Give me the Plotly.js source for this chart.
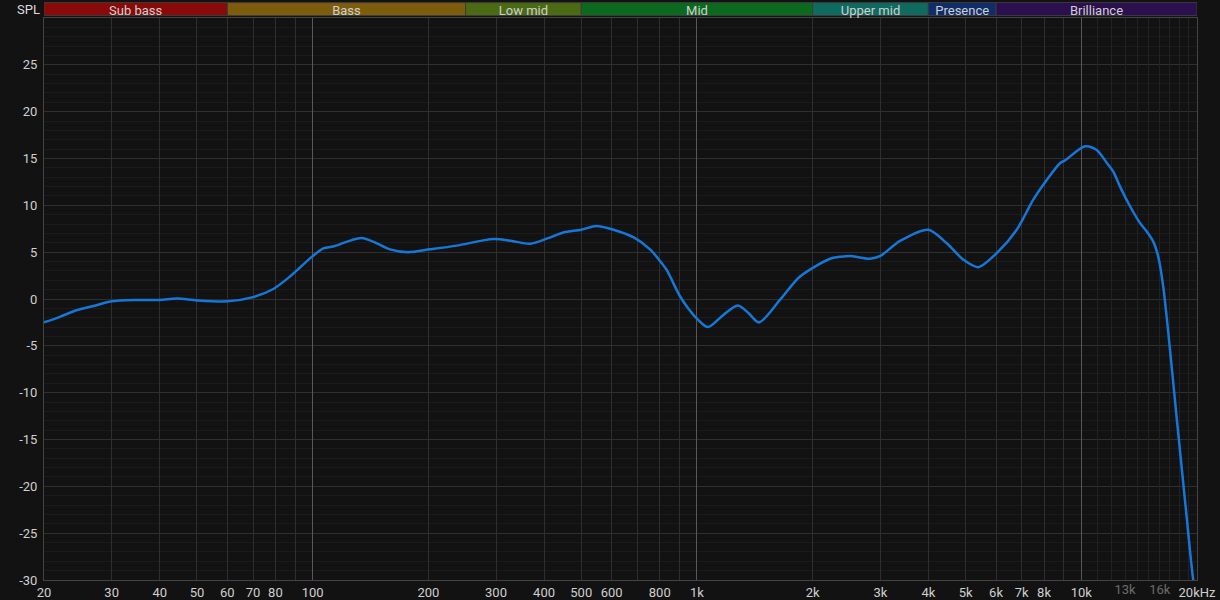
<!DOCTYPE html>
<html>
<head>
<meta charset="utf-8">
<script src="https://cdn.plot.ly/plotly-3.0.1.min.js"></script>
<style>
  html, body { margin: 0; padding: 0; background: #121212; }
  #chart { width: 1220px; height: 600px; }
</style>
</head>
<body>
<div id="chart"></div>
<script>
// ---- data ----
const freq = [20, 22, 24.3, 26.9, 30, 34.2, 40, 44.3, 50, 60, 70, 79, 87.3, 99.5, 106.6, 113, 122.6, 134, 146, 159, 177, 202, 237, 295, 330, 368, 410, 449, 500, 548, 606, 683, 755, 800, 834, 900, 945, 1000, 1068, 1171, 1278, 1361, 1450, 1644, 1854, 2220, 2356, 2500, 2820, 3000, 3376, 4000, 4466, 4932, 5396, 6024, 6792, 7500, 8128, 8800, 9072, 10228, 10965, 11668, 12112, 12612, 13391, 14220, 14800, 15400, 15860, 16340, 16850, 17700, 18800, 19420, 20000];
const spl = [-2.5, -1.9, -1.2, -0.75, -0.25, -0.1, -0.1, 0.05, -0.15, -0.25, 0.2, 1.07, 2.4, 4.5, 5.4, 5.6, 6.1, 6.5, 6.0, 5.3, 5.0, 5.3, 5.7, 6.4, 6.2, 5.9, 6.5, 7.1, 7.4, 7.8, 7.4, 6.6, 5.3, 4.1, 3.1, 0.4, -0.9, -2.1, -3.0, -1.7, -0.7, -1.5, -2.5, -0.1, 2.4, 4.3, 4.5, 4.6, 4.3, 4.6, 6.2, 7.4, 5.95, 4.2, 3.4, 4.9, 7.4, 10.6, 12.7, 14.5, 14.8, 16.3, 15.9, 14.5, 13.6, 12.0, 9.9, 8.1, 7.2, 6.1, 4.5, 1.3, -3.7, -12.6, -23.3, -29.0, -33];

const bandNames = ["Sub bass", "Bass", "Low mid", "Mid", "Upper mid", "Presence", "Brilliance"];
const bandEdges = [20, 60, 250, 500, 2000, 4000, 6000, 20000];
const bandColors = ["#8a0a0a", "#7d5d0b", "#4b6b12", "#0b6a1e", "#0f6b60", "#0f2d6a", "#2c0f4e"];

const xTickVals = [20, 30, 40, 50, 60, 70, 80, 90, 100, 200, 300, 400, 500, 600, 700, 800, 900, 1000, 2000, 3000, 4000, 5000, 6000, 7000, 8000, 9000, 10000, 20000];
const xTickText = ["20", "30", "40", "50", "60", "70", "80", "", "100", "200", "300", "400", "500", "600", "", "800", "", "1k", "2k", "3k", "4k", "5k", "6k", "7k", "8k", "", "10k", "20kHz"];
const xMinorVals = [11000, 12000, 13000, 14000, 15000, 16000, 17000, 18000, 19000];
const xMinorText = ["", "", "13k", "", "", "16k", "", "", ""];
const xDecadeVals = [100, 1000, 10000];
const yTickVals = [-30, -25, -20, -15, -10, -5, 0, 5, 10, 15, 20, 25];
const yTickText = ["-30", "-25", "-20", "-15", "-10", "-5", "0", "5", "10", "15", "20", "25"];

// ---- chart ----
const FONT = "Roboto, 'Noto Sans', sans-serif";
const xr = [Math.log10(20), Math.log10(20000)];

const traces = [
  { x: [], y: [], xaxis: "x2", yaxis: "y", type: "scatter", mode: "lines", hoverinfo: "skip", showlegend: false },
  { x: [], y: [], xaxis: "x3", yaxis: "y", type: "scatter", mode: "lines", hoverinfo: "skip", showlegend: false },
  {
    x: freq, y: spl, type: "scatter", mode: "lines",
    line: { color: "#1677d8", width: 2.5, shape: "spline", smoothing: 0.8 },
    showlegend: false, hoverinfo: "x+y"
  }
];

const shapes = bandNames.map((n, i) => ({
  type: "rect", xref: "x", yref: "paper",
  x0: bandEdges[i], x1: bandEdges[i + 1],
  y0: 1.0043, y1: 1.0274,
  fillcolor: bandColors[i],
  line: { color: "#3c3c3c", width: 1 },
  layer: "above",
  label: { text: n, font: { family: FONT, size: 13, color: "#cfcfcf" }, textposition: "middle center" }
}));

const layout = {
  width: 1220, height: 600,
  margin: { l: 44, r: 23, t: 18, b: 20, pad: 0 },
  paper_bgcolor: "#121212",
  plot_bgcolor: "#121212",
  font: { family: FONT, size: 13, color: "#c8c8c8" },
  showlegend: false,
  xaxis: {
    type: "log", range: xr, tickmode: "array", tickvals: xTickVals, ticktext: xTickText,
    showgrid: true, gridcolor: "#2f2f2f", gridwidth: 1, ticks: "", zeroline: false,
    showline: true, linecolor: "#444", mirror: true,
    tickfont: { family: FONT, size: 13, color: "#cfcfcf" }
  },
  xaxis2: {
    type: "log", range: xr, overlaying: "x", anchor: "y", side: "bottom",
    tickmode: "array", tickvals: xMinorVals, ticktext: xMinorText,
    showgrid: true, gridcolor: "#222222", ticks: "", zeroline: false, showline: false,
    tickfont: { family: FONT, size: 13, color: "#6c6c6c" }
  },
  xaxis3: {
    type: "log", range: xr, overlaying: "x", anchor: "y", side: "bottom",
    tickmode: "array", tickvals: xDecadeVals, showticklabels: false,
    showgrid: true, gridcolor: "#585858", ticks: "", zeroline: false, showline: false
  },
  yaxis: {
    range: [-30, 30], tickmode: "array", tickvals: yTickVals, ticktext: yTickText,
    showgrid: true, gridcolor: "#2f2f2f", ticks: "", zeroline: false,
    showline: true, linecolor: "#444", mirror: true,
    ticklabelstandoff: 3,
    minor: { dtick: 1, showgrid: true, gridcolor: "#1b1b1b", ticks: "" },
    tickfont: { family: FONT, size: 13, color: "#cfcfcf" }
  },
  shapes: shapes,
  annotations: [{
    text: "SPL", xref: "paper", yref: "paper", x: 0, y: 1.0158,
    xanchor: "right", yanchor: "middle", xshift: -2, showarrow: false,
    font: { family: FONT, size: 13, color: "#dddddd" }
  }]
};

Plotly.newPlot("chart", traces, layout, { displayModeBar: false, staticPlot: true });
</script>
</body>
</html>
